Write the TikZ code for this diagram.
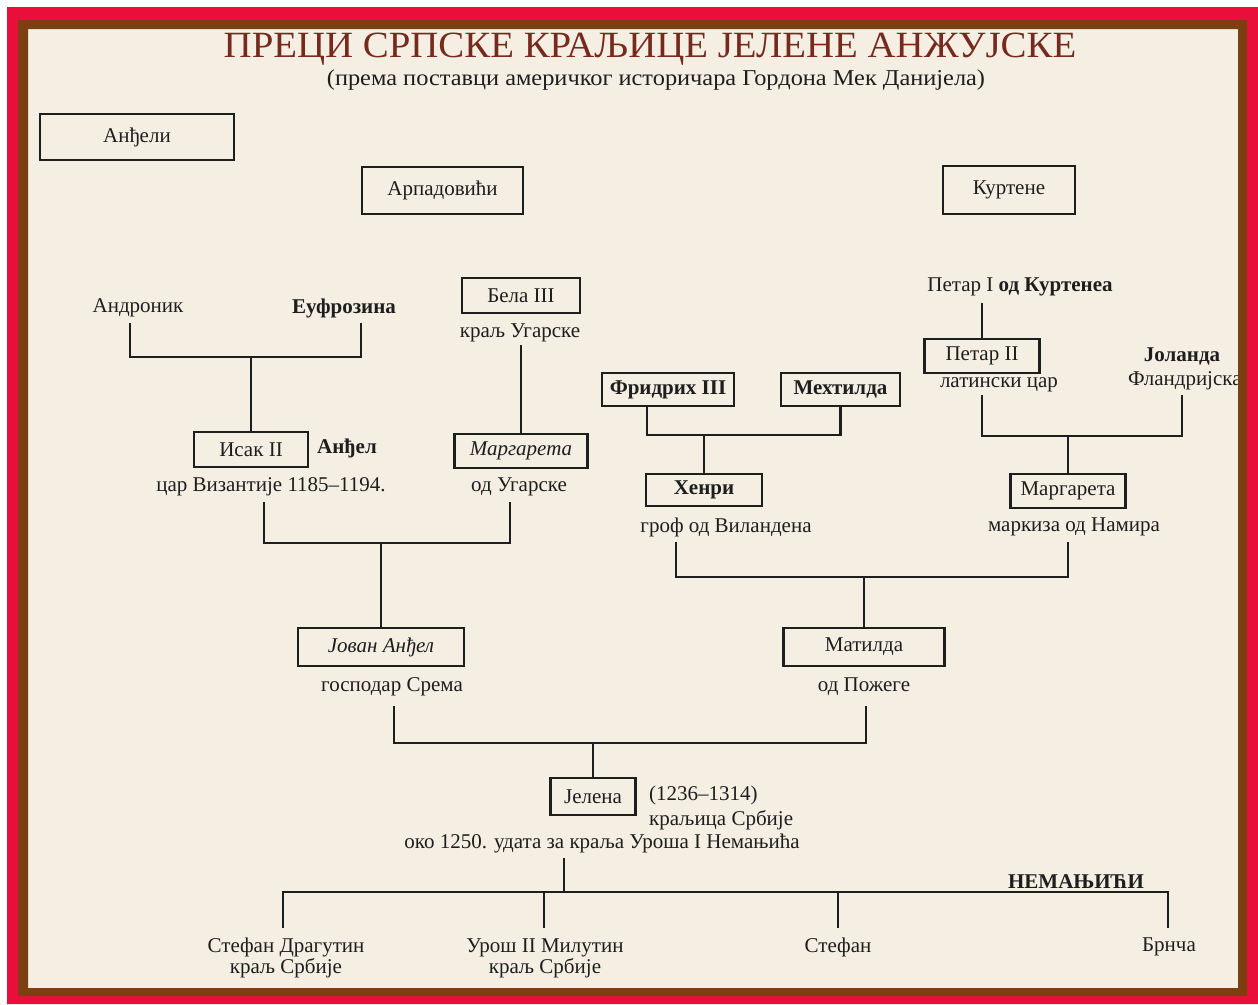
\documentclass[tikz,border=0pt]{standalone}
\usepackage{fontspec}
\setmainfont{Liberation Serif}
\definecolor{frameRed}{HTML}{EA0F3B}
\definecolor{frameBrown}{HTML}{7B3F12}
\definecolor{paper}{HTML}{F4EEE3}
\definecolor{titleC}{HTML}{762A1E}
\definecolor{ink}{HTML}{1E1E1E}
\newcommand\bodyfs{\fontsize{21}{21}\selectfont}
\begin{document}
\begin{tikzpicture}[x=1pt,y=-1pt,
  famBox/.style={draw=ink, line width=2.8pt, inner sep=0pt, font=\bodyfs, text=ink},
  txt/.style={inner sep=0pt, font=\bodyfs, text=ink},
  conn/.style={draw=ink, line width=2.8pt}]
\useasboundingbox (0,0) rectangle (1258,1004);
\fill[white] (0,0) rectangle (1258,1004);
\fill[paper] (28,29) rectangle (1238,988);

% titles
\node[inner sep=0pt, text=titleC, font=\fontsize{37}{37}\selectfont] (title) at (650,49) {\scalebox{1.05}[1]{ПРЕЦИ СРПСКЕ КРАЉИЦЕ ЈЕЛЕНЕ АНЖУЈСКЕ}};
\node[txt, font=\fontsize{21}{21}\selectfont] (subtitle) at (656,80) {\scalebox{1.16}[1.08]{(према поставци америчког историчара Гордона Мек Данијела)}};

% dynasty boxes
\node[famBox, minimum width=194, minimum height=46] (andjeli) at (137,137) {Анђели};
\node[famBox, minimum width=161, minimum height=47] (arpad) at (442.5,190.5) {Арпадовићи};
\node[famBox, minimum width=132, minimum height=48] (kurtene) at (1009,190) {Куртене};

% Angeloi branch
\node[txt] (andronik) at (138,308) {Андроник};
\node[txt, font=\bodyfs\bfseries] (eufrozina) at (344,308) {Еуфрозина};
\node[famBox, minimum width=114, minimum height=35] (isak) at (251,449.5) {Исак II};
\node[txt, font=\bodyfs\bfseries] (andjel) at (347,448) {Анђел};
\node[txt] (isakT) at (271,487) {цар Византије 1185–1194.};

% Arpad branch
\node[famBox, minimum width=118, minimum height=35] (bela) at (521,295.5) {Бела III};
\node[txt] (belaT) at (520,333) {краљ Угарске};
\node[famBox, minimum width=133, minimum height=34, font=\bodyfs\itshape] (margU) at (521,451) {Маргарета};
\node[txt] (margUT) at (519,487) {од Угарске};

% Courtenay branch
\node[txt] (petar1) at (1020,287) {Петар I \textbf{од Куртенеа}};
\node[famBox, minimum width=115, minimum height=34] (petar2) at (982,356) {Петар II};
\node[txt] (petar2T) at (999,385) {латински цар};
\node[txt, font=\bodyfs\bfseries] (jolanda) at (1182,356) {Јоланда};
\node[txt, anchor=west] (jolandaT) at (1128,381) {Фландријска};

% Friedrich branch
\node[famBox, minimum width=132, minimum height=33, font=\bodyfs\bfseries] (fridrih) at (668,389.5) {Фридрих III};
\node[famBox, minimum width=119, minimum height=33, font=\bodyfs\bfseries] (mehtilda) at (840.5,389.5) {Мехтилда};
\node[famBox, minimum width=116, minimum height=32, font=\bodyfs\bfseries] (henri) at (704,490) {Хенри};
\node[txt] (henriT) at (726,527) {гроф од Виландена};
\node[famBox, minimum width=115, minimum height=34] (margN) at (1068,491) {Маргарета};
\node[txt] (margNT) at (1074,527) {маркиза од Намира};

% parents of Jelena
\node[famBox, minimum width=166, minimum height=38, font=\bodyfs\itshape] (jovan) at (381,647) {Јован Анђел};
\node[txt] (jovanT) at (392,687) {господар Срема};
\node[famBox, minimum width=161, minimum height=38] (matilda) at (864,647) {Матилда};
\node[txt] (matildaT) at (864,687) {од Пожеге};

% Jelena
\node[famBox, minimum width=85, minimum height=37] (jelena) at (593,796.5) {Јелена};
\node[txt, anchor=west] (jelenaD) at (649,795) {(1236–1314)};
\node[txt, anchor=west] (jelenaT) at (649,820) {краљица Србије};
\node[txt] (jelenaM) at (602,843) {око 1250. удата за краља Уроша I Немањића};

% Nemanjici
\node[txt, font=\bodyfs\bfseries] (nemanjici) at (1076,882) {НЕМАЊИЋИ};
\node[txt, align=center] (dragutin) at (286,958) {Стефан Драгутин\\краљ Србије};
\node[txt, align=center] (milutin) at (545,958) {Урош II Милутин\\краљ Србије};
\node[txt] (stefan) at (838,947) {Стефан};
\node[txt] (brnca) at (1169,947) {Брнча};

% connector coordinates
\coordinate (andrB) at (130,323);
\coordinate (eufB) at (361,323);
\coordinate (famA) at (251,357);
\coordinate (belaB) at (521,345);
\coordinate (isakB) at (264,502);
\coordinate (margUB) at (510,502);
\coordinate (famB) at (381,543);
\coordinate (petar1B) at (982,303);
\coordinate (petar2B) at (982,395);
\coordinate (jolB) at (1182,395);
\coordinate (famC) at (1068,436);
\coordinate (famD) at (704,435);
\coordinate (henriB) at (676,542);
\coordinate (margNB) at (1068,542);
\coordinate (famE) at (864,577);
\coordinate (jovanB) at (394,706);
\coordinate (matildaB) at (866,706);
\coordinate (famF) at (593,743);
\coordinate (jelenaB) at (564,858);
\coordinate (famG) at (564,892);
\coordinate (kid1) at (283,928);
\coordinate (kid2) at (544,928);
\coordinate (kid3) at (838,928);
\coordinate (kid4) at (1168,928);

% connectors
\draw[conn] (andrB) |- (famA) -| (eufB);
\draw[conn] (famA) -- (isak.north);
\draw[conn] (belaB) -- (margU.north);
\draw[conn] (isakB) |- (famB) -| (margUB);
\draw[conn] (famB) -- (famB |- jovan.north);
\draw[conn] (petar1B) -- (petar2.north);
\draw[conn] (petar2B) |- (famC) -| (jolB);
\draw[conn] (famC) -- (margN.north);
\draw[conn] (fridrih.south -| 647,0) |- (famD) -| (mehtilda.south);
\draw[conn] (famD) -- (henri.north);
\draw[conn] (henriB) |- (famE) -| (margNB);
\draw[conn] (famE) -- (matilda.north);
\draw[conn] (jovanB) |- (famF) -| (matildaB);
\draw[conn] (famF) -- (jelena.north);
\draw[conn] (jelenaB) -- (famG);
\draw[conn] (kid1) |- (famG) -| (kid4);
\draw[conn] (kid2) -- (kid2 |- famG);
\draw[conn] (kid3) -- (kid3 |- famG);

% frame
\fill[frameRed, even odd rule] (7,7) rectangle (1258,1004) (18,20) rectangle (1247,996);
\fill[frameBrown, even odd rule] (18,20) rectangle (1247,996) (28,29) rectangle (1238,988);
\end{tikzpicture}
\end{document}
